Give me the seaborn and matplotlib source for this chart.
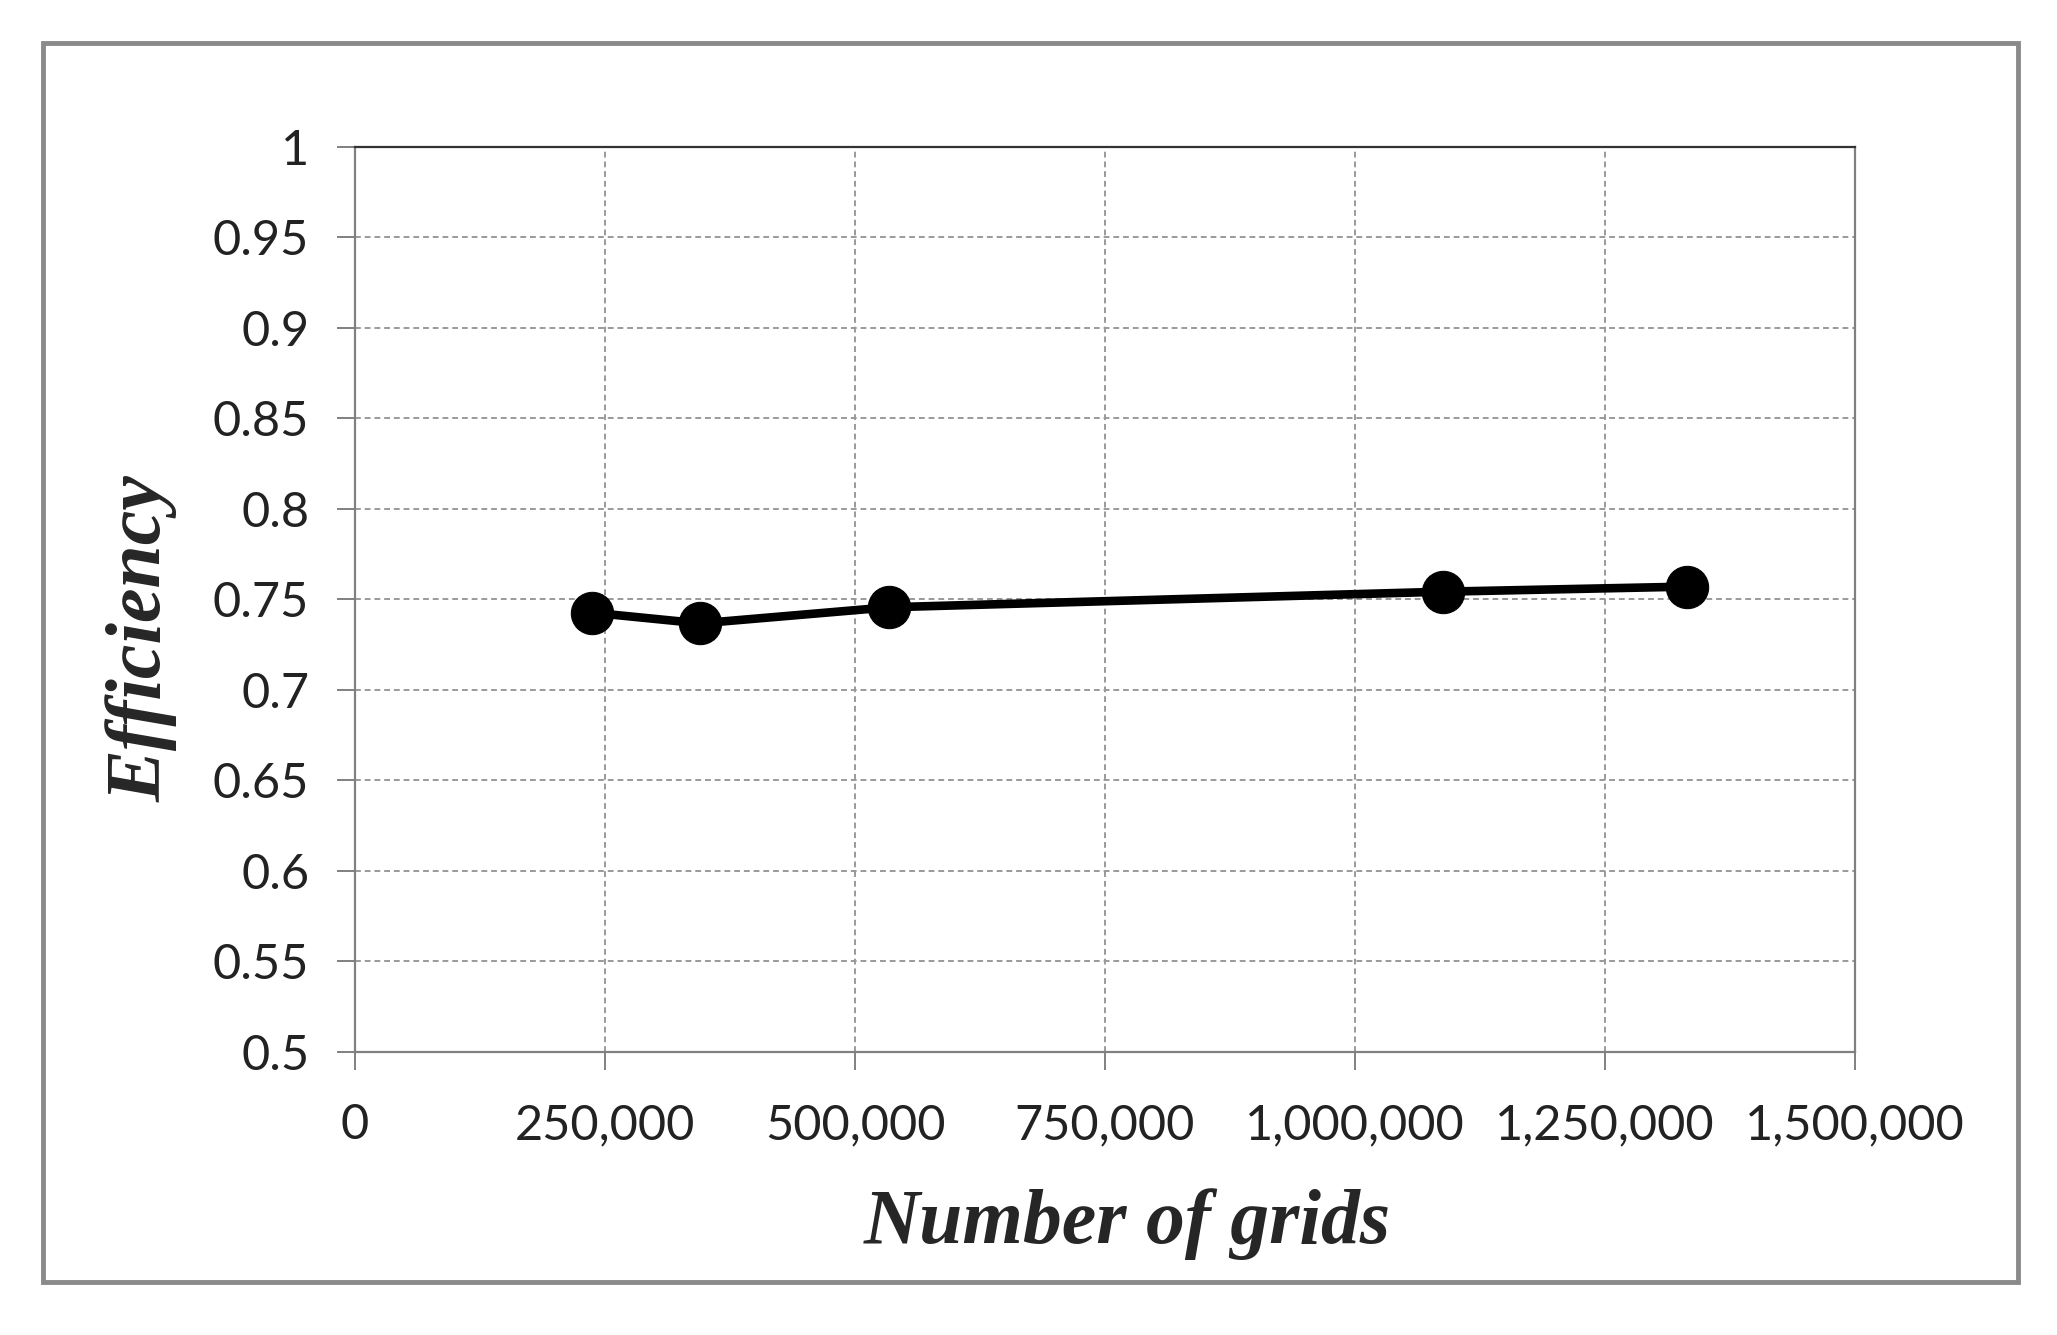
import matplotlib
matplotlib.use("Agg")
import matplotlib.pyplot as plt
import matplotlib.ticker as mticker
from matplotlib.patches import Rectangle
import seaborn as sns
import pandas as pd

# values
grids = [237300, 345000, 534300, 1087700, 1332300]
efficiency = [0.7427, 0.7368, 0.7457, 0.7543, 0.7571]

x_ticks = [0, 250000, 500000, 750000, 1000000, 1250000, 1500000]
y_ticks = [0.5, 0.55, 0.6, 0.65, 0.7, 0.75, 0.8, 0.85, 0.9, 0.95, 1.0]

df = pd.DataFrame({"grids": grids, "efficiency": efficiency})

sns.set_style("white")
plt.rcParams["font.family"] = ["Lato", "DejaVu Sans"]

fig = plt.figure(figsize=(20.57, 13.35), dpi=100)
ax = fig.add_axes([0.1726, 0.212, 0.7292, 0.6779])

sns.lineplot(data=df, x="grids", y="efficiency", ax=ax, color="black",
             linewidth=6.2, marker="o", markersize=30.5, markeredgecolor="black",
             markerfacecolor="black", zorder=5)

ax.set_xlim(0, 1500000)
ax.set_ylim(0.5, 1.0)
ax.set_xticks(x_ticks)
ax.set_yticks(y_ticks)
ax.xaxis.set_major_formatter(mticker.FuncFormatter(lambda v, p: f"{int(v):,}"))
ax.yaxis.set_major_formatter(mticker.FuncFormatter(lambda v, p: f"{v:g}"))

ax.grid(True, color="#9a9a9a", linestyle=(0, (3, 2)), linewidth=1.4)
ax.tick_params(axis="both", direction="out", length=13, width=1.4,
               color="#808080", labelsize=35, labelcolor="#222222",
               bottom=True, left=True)
ax.tick_params(axis="x", pad=24)
ax.tick_params(axis="y", pad=20)
for side in ["left", "bottom", "right"]:
    ax.spines[side].set_color("#808080")
    ax.spines[side].set_linewidth(1.6)
ax.spines["top"].set_color("#333333")
ax.spines["top"].set_linewidth(1.6)

ax.set_xlabel("Number of grids", fontsize=56, fontweight="bold", fontstyle="italic",
              family=["Liberation Serif", "DejaVu Serif"])
ax.set_ylabel("Efficiency", fontsize=56, fontweight="bold", fontstyle="italic",
              family=["Liberation Serif", "DejaVu Serif"])
ax.xaxis.set_label_coords(0.515, -0.15)
ax.yaxis.set_label_coords(-0.118, 0.457)

# outer gray frame around the whole chart
fig.patches.append(Rectangle((43 / 2057, 1 - 1282 / 1335), (2018 - 43) / 2057,
                             (1282 - 43) / 1335, transform=fig.transFigure,
                             fill=False, edgecolor="#8a8a8a", linewidth=3.5))

fig.savefig("out.png", dpi=100, facecolor="white")
